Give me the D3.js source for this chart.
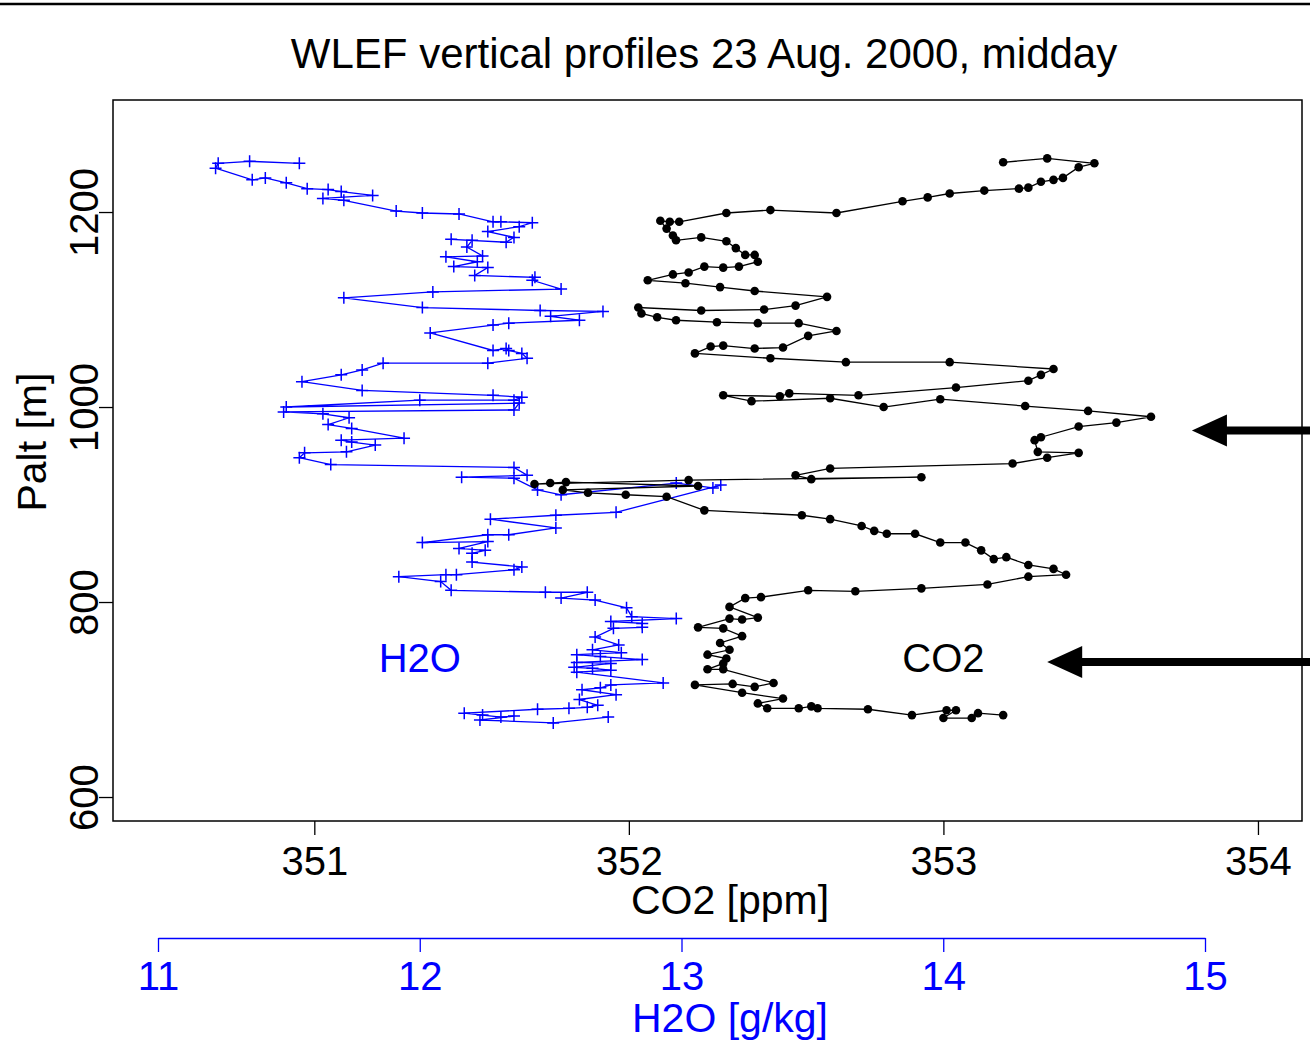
<!DOCTYPE html>
<html>
<head>
<meta charset="utf-8">
<script src="https://cdn.jsdelivr.net/npm/d3@7"></script>
<style>
  body { margin: 0; background: #fff; }
  text { font-family: "Liberation Sans", Arial, sans-serif; }
</style>
</head>
<body>
<script>
// CO2 profile (ppm) and altitude (m)
const co2Ppm = [
  353.19, 353.33, 353.48, 353.43, 353.38, 353.35, 353.31, 353.27, 353.24, 353.13,
  353.02, 352.95, 352.87, 352.66, 352.45, 352.31, 352.16, 352.13, 352.10, 352.12,
  352.14, 352.15, 352.23, 352.31, 352.34, 352.37, 352.40, 352.41, 352.35, 352.30,
  352.24, 352.19, 352.14, 352.06, 352.18, 352.29, 352.40, 352.63, 352.53, 352.43,
  352.23, 352.03, 352.04, 352.09, 352.15, 352.28, 352.41, 352.54, 352.66, 352.57,
  352.49, 352.40, 352.30, 352.26, 352.21, 352.45, 352.69, 353.02, 353.35, 353.31,
  353.27, 353.04, 352.73, 352.51, 352.48, 352.30, 352.39, 352.64, 352.81, 352.99,
  353.26, 353.46, 353.66, 353.55, 353.43, 353.31, 353.29, 353.30, 353.43, 353.33,
  353.22, 352.64, 352.53, 352.58, 352.93, 352.19, 351.70, 351.75, 351.80, 352.22,
  351.79, 351.87, 351.99, 352.12, 352.24, 352.55, 352.64, 352.74, 352.78, 352.82,
  352.91, 352.99, 353.07, 353.12, 353.16, 353.20, 353.27, 353.35, 353.39, 353.27,
  353.14, 352.93, 352.72, 352.57, 352.42, 352.37, 352.32, 352.41, 352.36, 352.32,
  352.22, 352.30, 352.36, 352.29, 352.32, 352.25, 352.31, 352.30, 352.25, 352.30,
  352.46, 352.40, 352.33, 352.21, 352.36, 352.49, 352.41, 352.44, 352.54, 352.58,
  352.60, 352.76, 352.90, 353.01, 353.04, 353.00, 353.09, 353.11, 353.19
];
const co2Alt = [
  1251, 1255, 1250, 1246, 1235, 1233, 1231, 1225, 1224, 1222,
  1219, 1215, 1211, 1199, 1202, 1199, 1190, 1190, 1191, 1183,
  1176, 1171, 1174, 1170, 1163, 1156, 1156, 1149, 1144, 1143,
  1144, 1138, 1136, 1130, 1127, 1123, 1119, 1113, 1104, 1100,
  1099, 1102, 1096, 1092, 1089, 1087, 1086, 1086, 1078, 1073,
  1061, 1060, 1063, 1062, 1055, 1050, 1046, 1046, 1039, 1033,
  1027, 1020, 1012, 1014, 1011, 1012, 1006, 1009, 1000, 1008,
  1001, 996, 990, 984, 980, 969, 966, 954, 953, 948,
  942, 937, 930, 926, 928, 925, 921, 922, 923, 919,
  915, 912, 910, 908, 894, 889, 885, 878, 873, 870,
  870, 861, 861, 853, 844, 846, 838, 834, 828, 826,
  818, 814, 811, 812, 805, 804, 795, 784, 782, 783,
  774, 773, 765, 758, 751, 746, 742, 737, 731, 731,
  717, 713, 716, 715, 707, 701, 696, 691, 691, 693,
  691, 690, 684, 689, 689, 681, 681, 686, 684
];

// H2O profile (g/kg) and altitude (m)
const h2oGkg = [
  11.54, 11.35, 11.23, 11.22, 11.36, 11.41, 11.49, 11.57, 11.65, 11.70,
  11.82, 11.63, 11.71, 11.91, 12.01, 12.15, 12.28, 12.31, 12.43, 12.38,
  12.26, 12.36, 12.33, 12.12, 12.20, 12.18, 12.24, 12.10, 12.22, 12.13,
  12.26, 12.21, 12.44, 12.43, 12.54, 12.05, 11.71, 12.01, 12.46, 12.70,
  12.50, 12.61, 12.34, 12.28, 12.04, 12.28, 12.33, 12.34, 12.39, 12.41,
  12.26, 11.86, 11.78, 11.70, 11.55, 11.78, 12.28, 12.39, 12.36, 12.00,
  11.49, 12.38, 12.36, 11.48, 11.63, 11.73, 11.65, 11.74, 11.94, 11.70,
  11.74, 11.83, 11.72, 11.56, 11.54, 11.66, 12.36, 12.41, 12.16, 12.36,
  12.45, 12.54, 12.98, 13.12, 13.15, 12.75, 12.52, 12.27, 12.52, 12.34,
  12.26, 12.01, 12.26, 12.15, 12.25, 12.20, 12.20, 12.39, 12.36, 12.14,
  12.10, 11.92, 12.08, 12.12, 12.48, 12.64, 12.54, 12.67, 12.79, 12.81,
  12.98, 12.73, 12.85, 12.85, 12.74, 12.67, 12.76, 12.66, 12.77, 12.60,
  12.69, 12.85, 12.60, 12.73, 12.59, 12.66, 12.73, 12.60, 12.93, 12.73,
  12.69, 12.62, 12.75, 12.61, 12.68, 12.64, 12.57, 12.45, 12.17, 12.24,
  12.31, 12.36, 12.23, 12.51, 12.72
];
const h2oAlt = [
  1250, 1252, 1250, 1245, 1233, 1235, 1230, 1224, 1223, 1221,
  1217, 1214, 1212, 1201, 1199, 1198, 1190, 1190, 1189, 1185,
  1180, 1174, 1169, 1172, 1171, 1164, 1155, 1154, 1149, 1144,
  1143, 1135, 1133, 1130, 1121, 1118, 1112, 1102, 1099, 1098,
  1093, 1089, 1086, 1084, 1076, 1058, 1060, 1058, 1055, 1050,
  1045, 1045, 1038, 1033, 1026, 1017, 1012, 1010, 1007, 1007,
  1000, 1004, 997, 995, 993, 989, 982, 978, 968, 966,
  964, 961, 954, 953, 948, 941, 938, 930, 928, 927,
  915, 910, 922, 917, 920, 892, 889, 885, 876, 869,
  869, 861, 862, 855, 853, 850, 841, 836, 833, 828,
  828, 826, 821, 812, 810, 810, 804, 802, 794, 785,
  783, 780, 778, 774, 773, 764, 756, 751, 748, 746,
  744, 741, 738, 737, 733, 732, 730, 728, 717, 715,
  712, 710, 705, 700, 694, 692, 691, 690, 686, 684,
  682, 683, 679, 676, 682
];

const co2Ticks = [351, 352, 353, 354];
const h2oTicks = [11, 12, 13, 14, 15];
const altTicks = [600, 800, 1000, 1200];

const blue = '#0000ff';
const W = 1310, H = 1063;
const m = { left: 113, right: 1302, top: 100, bottom: 821 };
const fmt = d3.format('d');

const svg = d3.select('body')
  .append('svg')
  .attr('width', W)
  .attr('height', H);

svg.append('rect').attr('width', W).attr('height', H).attr('fill', '#fff');

// border line across the top
svg.append('line')
  .attr('x1', 0).attr('x2', W)
  .attr('y1', 4).attr('y2', 4)
  .attr('stroke', '#000').attr('stroke-width', 2.5);

const x = d3.scaleLinear().domain([350.36, 354.14]).range([m.left, m.right]);
const xh = d3.scaleLinear().domain([11, 15]).range([158, 1205]);
const y = d3.scaleLinear().domain([575.4, 1314.9]).range([m.bottom, m.top]);

const co2 = co2Ppm.map((v, i) => ({ v: v, a: co2Alt[i] }));
const h2o = h2oGkg.map((v, i) => ({ v: v, a: h2oAlt[i] }));

// title
svg.append('text')
  .attr('x', 704).attr('y', 68)
  .attr('text-anchor', 'middle')
  .attr('font-size', 42)
  .text('WLEF vertical profiles 23 Aug. 2000, midday');

// CO2 axis
const gx = svg.append('g')
  .attr('transform', `translate(0,${m.bottom})`)
  .call(d3.axisBottom(x).tickValues(co2Ticks).tickFormat(fmt)
    .tickSize(14).tickSizeOuter(0).tickPadding(12));
gx.select('.domain').remove();
gx.selectAll('line').attr('stroke', '#000').attr('stroke-width', 1.3);
gx.selectAll('text').attr('font-size', 40).attr('fill', '#000');

svg.append('text')
  .attr('x', 730).attr('y', 914)
  .attr('text-anchor', 'middle')
  .attr('font-size', 41)
  .text('CO2 [ppm]');

// H2O axis
const gh = svg.append('g')
  .attr('transform', 'translate(0,938)')
  .call(d3.axisBottom(xh).tickValues(h2oTicks).tickFormat(fmt)
    .tickSize(14).tickSizeOuter(0).tickPadding(10));
gh.select('.domain').attr('stroke', blue).attr('stroke-width', 1.5);
gh.selectAll('line').attr('stroke', blue).attr('stroke-width', 1.3);
gh.selectAll('text').attr('font-size', 40).attr('fill', blue);

svg.append('text')
  .attr('x', 730).attr('y', 1032)
  .attr('text-anchor', 'middle')
  .attr('font-size', 41)
  .attr('fill', blue)
  .text('H2O [g/kg]');

// altitude axis
const gy = svg.append('g')
  .attr('transform', `translate(${m.left},0)`)
  .call(d3.axisLeft(y).tickValues(altTicks).tickFormat(fmt)
    .tickSize(14).tickSizeOuter(0));
gy.select('.domain').remove();
gy.selectAll('line').attr('stroke', '#000').attr('stroke-width', 1.3);
gy.selectAll('text')
  .attr('font-size', 40).attr('fill', '#000')
  .attr('transform', 'rotate(-90)')
  .attr('text-anchor', 'middle')
  .attr('x', 0).attr('y', -15).attr('dy', 0);

svg.append('text')
  .attr('transform', `translate(46,${y(964)}) rotate(-90)`)
  .attr('text-anchor', 'middle')
  .attr('font-size', 41)
  .text('Palt [m]');

// plot frame
svg.append('rect')
  .attr('x', m.left).attr('y', m.top)
  .attr('width', m.right - m.left).attr('height', m.bottom - m.top)
  .attr('fill', 'none').attr('stroke', '#000').attr('stroke-width', 1.5);

// H2O line + crosses
const lineH = d3.line().x(d => xh(d.v)).y(d => y(d.a));
svg.append('path')
  .datum(h2o)
  .attr('d', lineH)
  .attr('fill', 'none')
  .attr('stroke', blue)
  .attr('stroke-width', 1.3);

svg.selectAll('.cross')
  .data(h2o)
  .enter()
    .append('path')
    .attr('class', 'cross')
    .attr('transform', d => `translate(${xh(d.v)},${y(d.a)})`)
    .attr('d', 'M-6,0H6M0,-6V6')
    .attr('stroke', blue)
    .attr('stroke-width', 1.5);

// CO2 line + dots
const lineC = d3.line().x(d => x(d.v)).y(d => y(d.a));
svg.append('path')
  .datum(co2)
  .attr('d', lineC)
  .attr('fill', 'none')
  .attr('stroke', '#000')
  .attr('stroke-width', 1.3);

svg.selectAll('.dot')
  .data(co2)
  .enter()
    .append('circle')
    .attr('class', 'dot')
    .attr('cx', d => x(d.v))
    .attr('cy', d => y(d.a))
    .attr('r', 4.3)
    .attr('fill', '#000');

// series labels
svg.append('text')
  .attr('x', xh(12.0)).attr('y', y(728))
  .attr('text-anchor', 'middle')
  .attr('font-size', 40)
  .attr('fill', blue)
  .text('H2O');

svg.append('text')
  .attr('x', x(353.0)).attr('y', y(728))
  .attr('text-anchor', 'middle')
  .attr('font-size', 40)
  .text('CO2');

// arrows on the right
function arrow(tipX, yy) {
  svg.append('line')
    .attr('x1', tipX + 30).attr('x2', W)
    .attr('y1', yy).attr('y2', yy)
    .attr('stroke', '#000').attr('stroke-width', 8);
  svg.append('path')
    .attr('d', `M${tipX},${yy}L${tipX + 35},${yy - 16}L${tipX + 35},${yy + 16}Z`)
    .attr('fill', '#000');
}
arrow(x(353.79), y(976));
arrow(x(353.33), y(738.5));
</script>
</body>
</html>
